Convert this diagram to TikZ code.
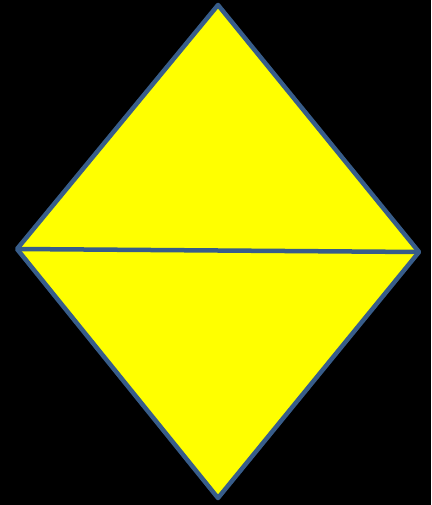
\documentclass[tikz,border=0pt]{standalone}
\definecolor{edgeblue}{HTML}{385D8A}
\definecolor{fillyellow}{RGB}{255,255,0}
\begin{document}
\begin{tikzpicture}[x=1pt,y=-1pt,
  tri/.style={fill=fillyellow,draw=edgeblue,line width=4.5pt,line join=round}]
\fill[black] (0,0) rectangle (431,505);
\useasboundingbox (0,0) rectangle (431,505);
\coordinate (T) at (218,5);
\coordinate (L) at (17,249);
\coordinate (R) at (419,252);
\coordinate (B) at (218,498);
\draw[tri] (T) -- (R) -- (B) -- (L) -- cycle;
\draw[draw=edgeblue,line width=4.5pt] (L) -- (R);
\end{tikzpicture}
\end{document}
